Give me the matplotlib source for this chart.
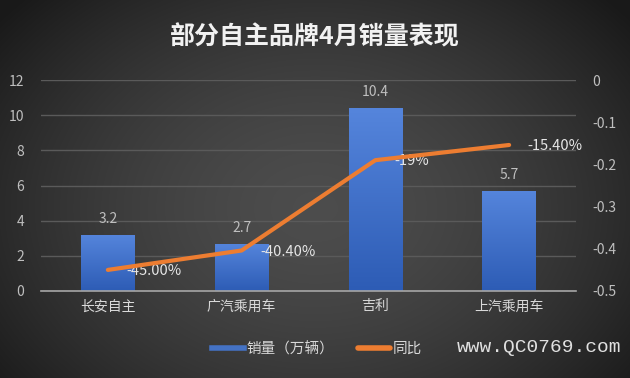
import numpy as np
import matplotlib
matplotlib.use("Agg")
import matplotlib.pyplot as plt
from matplotlib.lines import Line2D
from matplotlib.colors import LinearSegmentedColormap

plt.rcParams['font.family'] = ['Noto Sans CJK SC', 'DejaVu Sans']

title = "部分自主品牌4月销量表现"
categories = ["长安自主", "广汽乘用车", "吉利", "上汽乘用车"]
sales = [3.2, 2.7, 10.4, 5.7]
yoy = [-0.45, -0.404, -0.19, -0.154]
yoy_labels = ["-45.00%", "-40.40%", "-19%", "-15.40%"]
sales_labels = ["3.2", "2.7", "10.4", "5.7"]
legend_labels = ["销量（万辆）", "同比"]
left_ticks = [0, 2, 4, 6, 8, 10, 12]
right_ticks = [0, -0.1, -0.2, -0.3, -0.4, -0.5]
right_tick_labels = ["0", "-0.1", "-0.2", "-0.3", "-0.4", "-0.5"]
watermark = "www.QC0769.com"

W, H = 630, 378
fig = plt.figure(figsize=(W / 100, H / 100), dpi=100)

# radial gradient background
bg = fig.add_axes([0, 0, 1, 1], zorder=-10)
yy, xx = np.mgrid[0:H, 0:W]
r = np.sqrt(((xx - W * 0.5) / (W * 0.6)) ** 2 + ((yy - H * 0.55) / (H * 0.75)) ** 2)
v = np.clip(0.30 - 0.18 * r ** 1.6, 0.10, 0.30)
img = np.dstack([v, v, v])
bg.imshow(img, extent=[0, 1, 0, 1], aspect='auto', origin='upper')
bg.set_axis_off()

ax = fig.add_axes([41 / W, 1 - 291 / H, (576 - 41) / W, (291 - 80) / H])
ax.set_facecolor('none')
x = np.arange(len(categories))
bw = 0.4
bars = ax.bar(x, sales, width=bw, color='#4472C4', zorder=2)
grad = np.linspace(0, 1, 256).reshape(-1, 1)
cmap = LinearSegmentedColormap.from_list('b', ['#2d5cb5', '#5585dc'])
for b in bars:
    x0, y0 = b.get_x(), b.get_y()
    im = ax.imshow(grad, cmap=cmap, origin='lower', aspect='auto',
                   extent=[x0, x0 + b.get_width(), y0, y0 + b.get_height()], zorder=2)
    im.set_clip_path(b)
    b.set_facecolor('none')

ax.set_xlim(-0.5, len(categories) - 0.5)
ax.set_ylim(0, 12)
ax.set_yticks(left_ticks)
ax.set_xticks(x)
ax.set_xticklabels(categories)
ax.grid(axis='y', color='#5a5a5a', lw=1, zorder=0)
for s in ['top', 'right', 'left']:
    ax.spines[s].set_visible(False)
ax.spines['bottom'].set_color('#a6a6a6')
ax.spines['bottom'].set_linewidth(1.2)
ax.tick_params(axis='both', length=0, colors='#bfbfbf', labelsize=10)
ax.tick_params(axis='x', pad=6, labelcolor='#d9d9d9')
ax.tick_params(axis='y', pad=12)
for i, (xi, s) in enumerate(zip(x, sales)):
    ax.text(xi, s + 0.9, sales_labels[i], ha='center', va='center', color='#bfbfbf', fontsize=10)

ax2 = ax.twinx()
ax2.set_ylim(-0.5, 0)
ax2.set_yticks(right_ticks)
ax2.set_yticklabels(right_tick_labels)
for s in ax2.spines.values():
    s.set_visible(False)
ax2.tick_params(axis='y', length=0, colors='#bfbfbf', labelsize=10, pad=12)
ax2.plot(x, yoy, color='#ED7D31', lw=3, solid_capstyle='round', zorder=5)
for i, (xi, yv) in enumerate(zip(x, yoy)):
    ax2.text(xi + 0.14, yv - 0.003, yoy_labels[i], ha='left', va='center', color='#e6e6e6', fontsize=10.5)

handles = [Line2D([0], [0], color='#4472C4', lw=4), Line2D([0], [0], color='#ED7D31', lw=4, solid_capstyle='round')]
fig.legend(handles, legend_labels, loc='center', bbox_to_anchor=(317 / W, 1 - 349 / H), ncol=2,
           frameon=False, labelcolor='#d9d9d9', fontsize=10.5, handlelength=2.2, handletextpad=0.2,
           columnspacing=1.6)

fig.text(315 / W, 1 - 37 / H, title, ha='center', va='center', color='#f2f2f2', fontsize=18, fontweight='bold')

fig.text(621 / W, 1 - 348 / H, watermark, ha='right', va='center', color='#e0e0e0',
         fontsize=14, family=['Liberation Mono', 'DejaVu Sans Mono'])

fig.savefig('out.png', dpi=100)
